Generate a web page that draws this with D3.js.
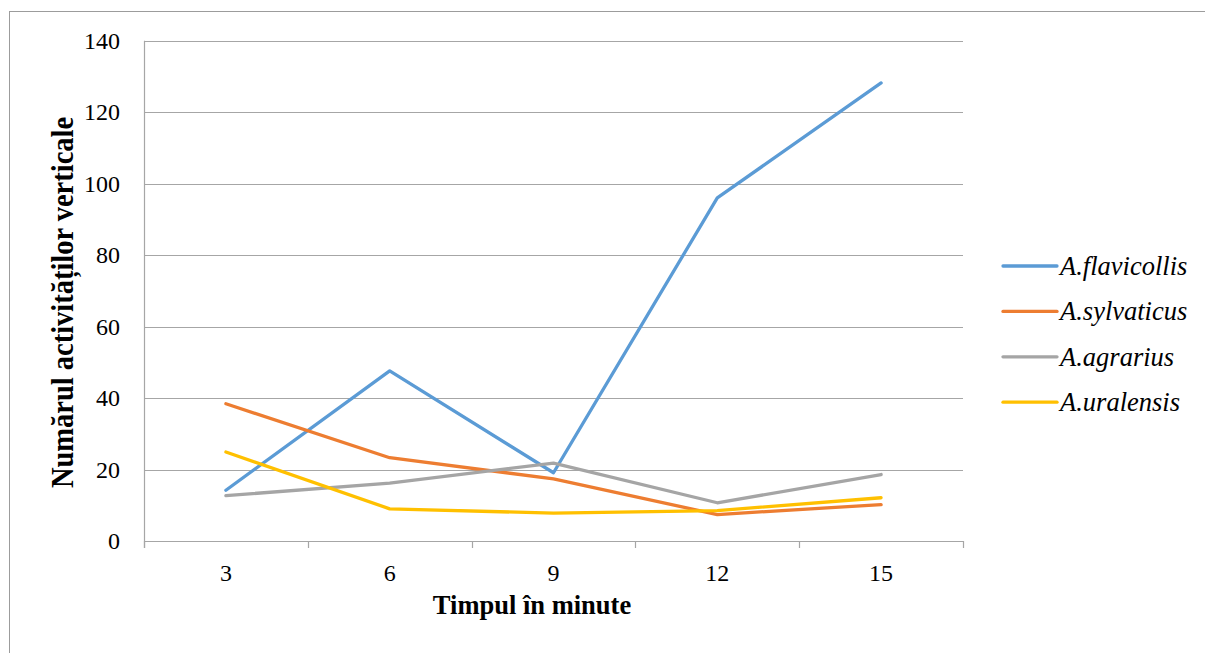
<!DOCTYPE html>
<html>
<head>
<meta charset="utf-8">
<script src="https://cdn.jsdelivr.net/npm/d3@7/dist/d3.min.js"></script>
<style>
  html, body { margin: 0; padding: 0; background: #fff; }
  svg { display: block; }
  svg text { font-family: "Liberation Serif", "Times New Roman", "DejaVu Serif", serif; fill: #000; }
</style>
</head>
<body>
<svg id="chart" width="1205" height="653"></svg>
<script>
// Time points (minutes) on the horizontal axis
const categories = ["3", "6", "9", "12", "15"];

// Vertical activity counts per species
const flavicollis = [14.2, 47.6, 19.1, 96.0, 128.2];
const sylvaticus  = [38.4, 23.3, 17.4, 7.4, 10.2];
const agrarius    = [12.7, 16.2, 21.8, 10.7, 18.6];
const uralensis   = [24.9, 9.0, 7.8, 8.5, 12.1];

const seriesNames = ["A.flavicollis", "A.sylvaticus", "A.agrarius", "A.uralensis"];
const seriesColors = ["#5B9BD5", "#ED7D31", "#A5A5A5", "#FFC000"];
const yTicks = [0, 20, 40, 60, 80, 100, 120, 140];

const series = seriesNames.map((name, i) => ({
  name,
  color: seriesColors[i],
  values: [flavicollis, sylvaticus, agrarius, uralensis][i]
}));

const svg = d3.select("#chart");
const plot = { left: 144, right: 963, top: 40.7, bottom: 541 };
const gridColor = "#a6a6a6";

// Outer chart frame
svg.append("rect")
  .attr("x", 9.5).attr("y", 11.5)
  .attr("width", 1300).attr("height", 800)
  .attr("fill", "none").attr("stroke", "#9c9c9c").attr("stroke-width", 1);

const x = d3.scaleBand().domain(categories).range([plot.left, plot.right]).padding(0);
const y = d3.scaleLinear().domain([0, 140]).range([plot.bottom, plot.top]);

// Horizontal gridlines
svg.append("g")
  .selectAll("line")
  .data(yTicks.filter(t => t > 0))
  .join("line")
  .attr("x1", plot.left).attr("x2", plot.right)
  .attr("y1", d => Math.round(y(d)) + 0.5).attr("y2", d => Math.round(y(d)) + 0.5)
  .attr("stroke", gridColor).attr("stroke-width", 1.2);

// Y axis labels
const yAxis = svg.append("g")
  .attr("transform", `translate(${plot.left},0)`)
  .call(d3.axisLeft(y).tickValues(yTicks).tickSize(0).tickPadding(24).tickFormat(d3.format("d")));
yAxis.select(".domain").remove();
yAxis.attr("font-family", null).attr("font-size", null);
yAxis.selectAll("text").style("font-size", "24px");

// Vertical axis line
svg.append("line")
  .attr("x1", plot.left + 0.5).attr("x2", plot.left + 0.5)
  .attr("y1", plot.top).attr("y2", plot.bottom + 7)
  .attr("stroke", gridColor).attr("stroke-width", 1.2);

// X axis labels
const xAxis = svg.append("g")
  .attr("transform", `translate(0,${plot.bottom})`)
  .call(d3.axisBottom(x).tickSize(0).tickPadding(23));
xAxis.select(".domain").remove();
xAxis.attr("font-family", null).attr("font-size", null);
xAxis.selectAll("text").style("font-size", "24px");

// X axis baseline and tick marks between categories
svg.append("line")
  .attr("x1", plot.left).attr("x2", plot.right)
  .attr("y1", Math.round(plot.bottom) + 0.5).attr("y2", Math.round(plot.bottom) + 0.5)
  .attr("stroke", gridColor).attr("stroke-width", 1.2);
const boundaries = categories.map(c => x(c)).concat([x(categories[categories.length - 1]) + x.bandwidth()]);
svg.append("g")
  .selectAll("line")
  .data(boundaries)
  .join("line")
  .attr("x1", d => Math.round(d) + 0.5).attr("x2", d => Math.round(d) + 0.5)
  .attr("y1", plot.bottom).attr("y2", plot.bottom + 7)
  .attr("stroke", gridColor).attr("stroke-width", 1.2);

// Series lines
const line = d3.line()
  .x((d, i) => x(categories[i]) + x.bandwidth() / 2)
  .y(d => y(d));

svg.append("g")
  .selectAll("path")
  .data(series)
  .join("path")
  .attr("d", d => line(d.values))
  .attr("fill", "none")
  .attr("stroke", d => d.color)
  .attr("stroke-width", 3.3)
  .attr("stroke-linejoin", "round")
  .attr("stroke-linecap", "round");

// Axis titles
svg.append("text")
  .attr("x", 532).attr("y", 614)
  .attr("text-anchor", "middle")
  .style("font-size", "26.5px").style("font-weight", "bold")
  .text("Timpul în minute");

svg.append("text")
  .attr("transform", "translate(73,302.5) rotate(-90) scale(1,1.1)")
  .attr("text-anchor", "middle")
  .style("font-size", "28.5px").style("font-weight", "bold")
  .text("Numărul activităților verticale");

// Legend
const legend = svg.append("g")
  .selectAll("g")
  .data(series)
  .join("g")
  .attr("transform", (d, i) => `translate(1003,${266 + i * 45.4})`);
legend.append("line")
  .attr("x1", 0).attr("x2", 54).attr("y1", 0).attr("y2", 0)
  .attr("stroke", d => d.color).attr("stroke-width", 3.3)
  .attr("stroke-linecap", "round");
legend.append("text")
  .attr("x", 57).attr("y", 9)
  .style("font-size", "26.5px").style("font-style", "italic")
  .text(d => d.name);
</script>
</body>
</html>
